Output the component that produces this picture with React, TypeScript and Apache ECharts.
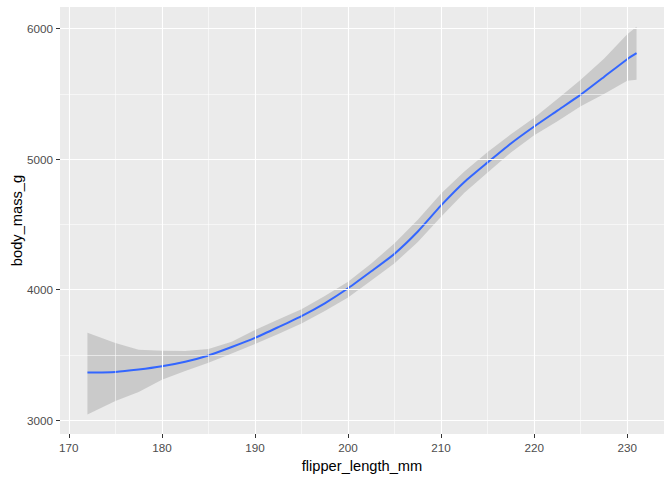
import React, { useEffect, useRef } from "react";
import * as echarts from "echarts";

const flipper = [172, 175, 177.5, 180, 182.5, 185, 187.5, 190, 192.5, 195, 197.5, 200, 202.5, 205, 207.5, 210, 212.5, 215, 217.5, 220, 222.5, 225, 227.5, 230, 231];
const fit = [3364, 3369, 3387, 3412, 3447, 3495, 3560, 3630, 3712, 3797, 3895, 4010, 4140, 4275, 4445, 4645, 4825, 4975, 5120, 5250, 5372, 5494, 5630, 5766, 5812];
const upper = [3669, 3590, 3539, 3532, 3530, 3545, 3600, 3690, 3770, 3850, 3950, 4060, 4200, 4355, 4535, 4737, 4905, 5055, 5190, 5318, 5460, 5608, 5770, 5957, 6015];
const lower = [3043, 3145, 3214, 3308, 3375, 3440, 3510, 3583, 3660, 3740, 3835, 3940, 4070, 4202, 4365, 4558, 4742, 4898, 5050, 5182, 5290, 5405, 5500, 5600, 5608];

const xTicks = [170, 180, 190, 200, 210, 220, 230];
const xMinor = [175, 185, 195, 205, 215, 225];
const yTicks = [3000, 4000, 5000, 6000];
const yMinor = [3500, 4500, 5500];

const X_MIN = 169.05;
const X_MAX = 233.95;
const Y_MIN = 2893;
const Y_MAX = 6166;

export default function App() {
  const ref = useRef<HTMLDivElement>(null);

  useEffect(() => {
    if (!ref.current) return;
    const chart = echarts.init(ref.current, undefined, { renderer: "svg" });
    const font = "'Liberation Sans', Arial, sans-serif";

    const gridLines: any[] = [];
    xTicks.forEach((v) => gridLines.push({ xAxis: v, lineStyle: { color: "#FFFFFF", width: 1.1, type: "solid" } }));
    xMinor.forEach((v) => gridLines.push({ xAxis: v, lineStyle: { color: "#FFFFFF", width: 0.55, type: "solid" } }));
    yTicks.forEach((v) => gridLines.push({ yAxis: v, lineStyle: { color: "#FFFFFF", width: 1.1, type: "solid" } }));
    yMinor.forEach((v) => gridLines.push({ yAxis: v, lineStyle: { color: "#FFFFFF", width: 0.55, type: "solid" } }));

    const band = flipper.map((x, i) => [x, lower[i], upper[i]]);

    chart.setOption({
      animation: false,
      grid: {
        left: 60,
        right: 8,
        top: 7,
        bottom: 46,
        show: true,
        backgroundColor: "#EBEBEB",
        borderWidth: 0,
        containLabel: false,
        outerBoundsMode: "none",
      },
      xAxis: {
        type: "value",
        min: X_MIN,
        max: X_MAX,
        name: "flipper_length_mm",
        nameLocation: "middle",
        nameGap: 24,
        nameMoveOverlap: false,
        nameTextStyle: { color: "#000000", fontSize: 14.67, fontFamily: font },
        axisLine: { show: false },
        axisTick: { show: true, length: 4, lineStyle: { color: "#333333", width: 1 }, customValues: xTicks },
        axisLabel: { color: "#4D4D4D", fontSize: 11.7, fontFamily: font, margin: 7, customValues: xTicks, formatter: (v: number) => String(v) },
        splitLine: { show: false },
      },
      yAxis: {
        type: "value",
        min: Y_MIN,
        max: Y_MAX,
        name: "body_mass_g",
        nameLocation: "middle",
        nameGap: 36,
        nameMoveOverlap: false,
        nameTextStyle: { color: "#000000", fontSize: 14.67, fontFamily: font },
        axisLine: { show: false },
        axisTick: { show: true, length: 4, lineStyle: { color: "#333333", width: 1 }, customValues: yTicks },
        axisLabel: { color: "#4D4D4D", fontSize: 11.7, fontFamily: font, margin: 7, customValues: yTicks, formatter: (v: number) => String(v) },
        splitLine: { show: false },
      },
      series: [
        {
          type: "line",
          name: "grid",
          data: [],
          z: 1,
          silent: true,
          markLine: {
            silent: true,
            symbol: ["none", "none"],
            label: { show: false },
            animation: false,
            data: gridLines,
          },
        },
        {
          type: "custom",
          name: "band",
          z: 2,
          silent: true,
          data: band,
          renderItem: (params: any, api: any) => {
            if (params.dataIndex !== 0) return null;
            const pts: number[][] = [];
            for (let i = 0; i < flipper.length; i++) pts.push(api.coord([flipper[i], upper[i]]));
            for (let i = flipper.length - 1; i >= 0; i--) pts.push(api.coord([flipper[i], lower[i]]));
            return {
              type: "polygon",
              shape: { points: pts },
              style: { fill: "rgba(153,153,153,0.4)", stroke: "none" },
            };
          },
        },
        {
          type: "line",
          name: "fit",
          z: 3,
          data: flipper.map((x, i) => [x, fit[i]]),
          showSymbol: false,
          smooth: 0.2,
          lineStyle: { color: "#3366FF", width: 2 },
        },
      ],
    });

    return () => chart.dispose();
  }, []);

  return <div ref={ref} style={{ width: 672, height: 480, position: "absolute", left: 0, top: 0 }} />;
}
